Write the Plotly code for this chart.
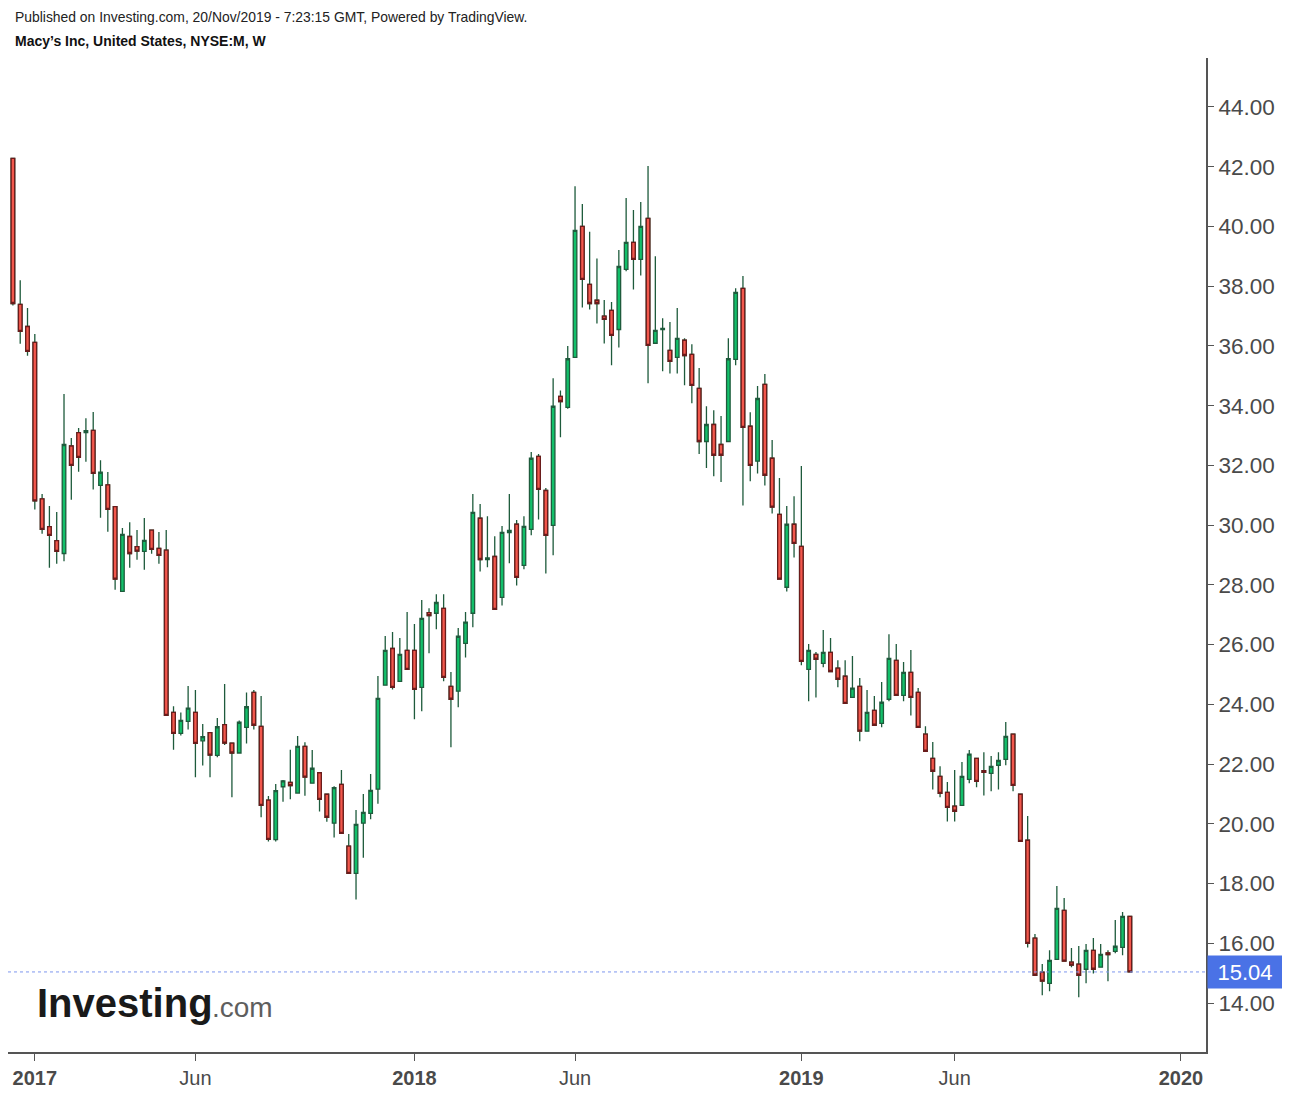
import pandas as pd
import plotly.graph_objects as go

# Weekly bars (Monday dates), Macy's Inc, NYSE:M
start_week = "2016-12-12"
n_weeks = 154

opens = [42.28, 37.39, 36.65, 36.12, 30.88, 29.95, 29.48, 29.05, 32.65, 33.10,
         33.10, 33.17, 31.33, 31.35, 30.62, 27.78, 29.62, 29.28, 29.12, 29.83,
         29.22, 29.16, 23.73, 23.03, 23.43, 23.73, 22.78, 23.05, 22.29, 23.32,
         22.70, 22.37, 23.23, 24.40, 23.26, 20.79, 19.47, 21.24, 21.39, 21.03,
         22.59, 21.36, 21.71, 20.99, 20.02, 21.32, 19.25, 18.34, 20.02, 20.35,
         21.16, 24.64, 25.87, 24.77, 25.81, 25.81, 24.57, 27.07, 27.05, 27.21,
         24.60, 24.44, 26.04, 27.05, 30.23, 28.85, 28.95, 27.58, 29.75, 30.03,
         28.65, 29.86, 32.30, 31.16, 29.99, 34.31, 33.94, 35.62, 40.00, 38.06,
         37.53, 37.00, 37.19, 36.55, 38.56, 39.47, 38.90, 40.27, 36.09, 36.55,
         35.85, 35.62, 36.19, 35.72, 34.58, 32.80, 33.37, 32.70, 32.80, 35.55,
         37.93, 33.31, 32.14, 34.71, 32.24, 30.36, 27.92, 30.03, 29.29, 25.17,
         25.67, 25.37, 25.74, 25.21, 24.94, 24.23, 24.60, 23.10, 23.80, 23.36,
         24.17, 25.47, 24.30, 25.07, 24.40, 23.00, 22.19, 21.59, 21.05, 20.59,
         20.62, 21.49, 22.19, 21.78, 21.69, 21.96, 22.16, 23.00, 20.99, 19.45,
         16.17, 15.03, 14.66, 15.46, 17.10, 15.37, 15.30, 15.13, 15.76, 15.20,
         15.68, 15.73, 15.86, 16.90]
highs = [42.30, 38.20, 37.27, 36.40, 31.04, 30.64, 30.44, 34.39, 32.92, 33.25,
         33.58, 33.79, 32.17, 31.78, 30.62, 29.90, 30.10, 29.84, 30.24, 29.83,
         29.77, 29.84, 23.94, 23.73, 24.61, 24.48, 23.34, 23.05, 23.54, 24.68,
         22.70, 23.46, 24.40, 24.48, 24.28, 20.93, 21.33, 21.47, 22.48, 22.94,
         22.73, 22.47, 21.71, 20.99, 21.26, 21.80, 19.66, 20.46, 21.00, 21.67,
         24.95, 26.29, 26.42, 26.22, 27.09, 26.69, 27.49, 27.22, 27.69, 27.69,
         25.08, 26.56, 27.09, 31.04, 30.71, 30.30, 29.63, 29.97, 31.04, 30.17,
         30.30, 32.45, 32.38, 31.24, 34.92, 34.51, 36.00, 41.35, 40.75, 39.82,
         38.93, 37.54, 37.47, 39.21, 40.95, 40.55, 40.82, 42.02, 39.00, 36.93,
         36.80, 37.27, 36.26, 36.06, 35.26, 33.98, 33.85, 33.65, 36.26, 37.93,
         38.34, 33.78, 34.66, 35.06, 32.85, 31.58, 30.64, 30.97, 31.98, 26.02,
         25.75, 26.49, 26.22, 25.48, 25.48, 25.62, 24.88, 24.48, 24.28, 24.75,
         26.35, 26.02, 25.42, 25.82, 24.55, 23.27, 22.74, 21.93, 21.40, 21.80,
         22.07, 22.47, 22.19, 22.40, 22.27, 22.40, 23.41, 23.00, 20.99, 20.26,
         16.31, 15.31, 15.77, 17.92, 17.52, 15.84, 15.91, 15.98, 16.18, 15.98,
         15.77, 16.78, 17.05, 16.90]
lows = [37.35, 36.07, 35.67, 30.52, 29.71, 28.57, 28.71, 28.79, 30.85, 31.79,
        32.12, 31.19, 30.25, 29.78, 27.84, 27.78, 28.57, 28.84, 28.51, 29.04,
        28.71, 23.63, 22.48, 22.96, 23.16, 21.56, 21.95, 21.56, 22.23, 22.64,
        20.89, 22.37, 22.69, 23.16, 20.22, 19.41, 19.41, 20.74, 20.82, 21.03,
        20.94, 21.36, 20.41, 20.07, 19.54, 19.68, 18.34, 17.47, 18.86, 20.15,
        20.67, 24.64, 24.50, 24.77, 25.17, 23.50, 23.77, 25.71, 26.51, 24.77,
        22.56, 23.90, 25.57, 26.58, 28.45, 28.59, 27.18, 27.31, 28.72, 27.98,
        28.52, 29.66, 30.19, 28.38, 28.99, 32.94, 33.90, 35.62, 37.29, 37.22,
        36.75, 36.08, 35.35, 35.95, 38.50, 37.89, 38.36, 34.75, 36.09, 35.15,
        35.08, 35.08, 34.68, 34.08, 32.38, 31.91, 31.64, 31.44, 32.80, 35.35,
        30.66, 31.47, 31.73, 31.33, 30.39, 28.19, 27.78, 28.92, 25.31, 24.10,
        24.23, 25.24, 25.10, 24.57, 24.03, 24.23, 22.76, 23.10, 23.30, 23.23,
        24.10, 24.30, 24.10, 23.63, 23.23, 22.43, 21.15, 20.89, 20.08, 20.08,
        20.62, 21.36, 21.22, 20.95, 21.09, 21.15, 21.96, 21.09, 19.41, 15.86,
        14.93, 14.26, 14.39, 15.46, 15.40, 15.20, 14.19, 14.66, 14.99, 15.20,
        14.73, 15.67, 15.60, 15.04]
closes = [37.42, 36.49, 35.82, 30.81, 29.86, 29.66, 29.12, 32.70, 32.00, 32.27,
          33.16, 31.73, 31.77, 30.53, 28.19, 29.69, 29.05, 29.13, 29.49, 29.19,
          28.99, 23.63, 23.03, 23.46, 23.87, 22.69, 22.92, 22.30, 23.25, 22.70,
          22.37, 23.40, 23.92, 23.30, 20.62, 19.48, 21.11, 21.44, 21.28, 22.59,
          21.56, 21.86, 20.82, 20.22, 21.21, 19.68, 18.34, 19.98, 20.38, 21.12,
          24.20, 25.81, 24.57, 25.67, 25.17, 24.50, 26.88, 26.97, 27.41, 24.90,
          24.17, 26.28, 26.75, 30.43, 28.85, 28.90, 27.18, 29.76, 29.82, 28.25,
          29.96, 32.24, 31.20, 29.66, 33.98, 34.14, 35.57, 39.87, 38.23, 37.42,
          37.42, 36.89, 36.35, 38.66, 39.47, 38.90, 40.00, 36.02, 36.52, 36.59,
          35.48, 36.25, 35.68, 34.68, 32.80, 33.37, 32.34, 32.34, 35.57, 37.79,
          33.27, 32.00, 34.24, 31.67, 30.60, 28.19, 30.03, 29.39, 25.44, 25.81,
          25.51, 25.74, 25.10, 24.84, 24.03, 24.54, 23.10, 23.73, 23.30, 24.07,
          25.54, 24.30, 25.07, 24.23, 23.23, 22.43, 21.76, 21.02, 20.55, 20.42,
          21.59, 22.33, 21.42, 21.72, 21.92, 22.12, 22.93, 21.29, 19.41, 16.00,
          14.93, 14.73, 15.43, 17.17, 15.40, 15.27, 14.93, 15.76, 15.13, 15.63,
          15.62, 15.90, 16.90, 15.04]

last_price = 15.04
y_tick_values = [14, 16, 18, 20, 22, 24, 26, 28, 30, 32, 34, 36, 38, 40, 42, 44]
x_tick_dates = ["2017-01-02", "2017-06-05", "2018-01-01", "2018-06-04",
                "2019-01-07", "2019-06-03", "2020-01-06"]
x_tick_labels = ["<b>2017</b>", "Jun", "<b>2018</b>", "Jun",
                 "<b>2019</b>", "Jun", "<b>2020</b>"]
header_line = "Published on Investing.com, 20/Nov/2019 - 7:23:15 GMT, Powered by TradingView."
title_line = "Macy\u2019s Inc, United States, NYSE:M, W"

dates = pd.date_range(start_week, periods=n_weeks, freq="7D")

GREEN = "#12c06a"
RED = "#f2584c"
DKGREEN = "#1e5b3c"
DKRED = "#6b1b1b"
AXIS = "#555555"
FONT = "Liberation Sans, Arial, sans-serif"

fig = go.Figure()

# full candles (wicks + bodies)
fig.add_trace(go.Candlestick(
    x=dates, open=opens, high=highs, low=lows, close=closes,
    increasing=dict(line=dict(color=DKGREEN, width=1.3), fillcolor=GREEN),
    decreasing=dict(line=dict(color=DKGREEN, width=1.3), fillcolor=RED),
    whiskerwidth=0, hoverinfo="skip", showlegend=False,
))

# red bodies with dark red outline on top
dn = [i for i in range(n_weeks) if closes[i] < opens[i]]
fig.add_trace(go.Candlestick(
    x=[dates[i] for i in dn],
    open=[opens[i] for i in dn],
    high=[max(opens[i], closes[i]) for i in dn],
    low=[min(opens[i], closes[i]) for i in dn],
    close=[closes[i] for i in dn],
    increasing=dict(line=dict(color=DKRED, width=1.3), fillcolor=RED),
    decreasing=dict(line=dict(color=DKRED, width=1.3), fillcolor=RED),
    whiskerwidth=0, hoverinfo="skip", showlegend=False,
))

# last price dotted line
fig.add_shape(type="line", xref="paper", yref="y", x0=0, x1=1,
              y0=last_price, y1=last_price,
              line=dict(color="#7d97ee", width=1, dash="dot"))

fig.add_annotation(xref="paper", yref="y", x=1, y=last_price,
                   xanchor="left", yanchor="middle", xshift=1,
                   text=f"{last_price:.2f}", showarrow=False,
                   font=dict(family=FONT, size=22, color="white"),
                   bgcolor="#4a72e6", width=70, height=28, borderpad=2)

# header texts
fig.add_annotation(xref="paper", yref="paper", x=0.0042, y=1.041,
                   xanchor="left", yanchor="middle", text=header_line,
                   showarrow=False, font=dict(family=FONT, size=13.9, color="#222222"))
fig.add_annotation(xref="paper", yref="paper", x=0.0042, y=1.017,
                   xanchor="left", yanchor="middle", text="<b>" + title_line + "</b>",
                   showarrow=False, font=dict(family=FONT, size=14, color="#111111"))

# logo
fig.add_annotation(xref="paper", yref="paper", x=0.0225, y=0.0493,
                   xanchor="left", yanchor="middle", text="<b>Investing</b>",
                   showarrow=False, font=dict(family=FONT, size=40, color="#1a1a1a"))
fig.add_annotation(xref="paper", yref="paper", x=0.1685, y=0.0443,
                   xanchor="left", yanchor="middle", text=".com",
                   showarrow=False, font=dict(family=FONT, size=28, color="#5e5e5e"))

fig.update_layout(
    width=1282, height=1086,
    margin=dict(l=0, r=84, t=50, b=42),
    paper_bgcolor="white", plot_bgcolor="white",
    font=dict(family=FONT, color="#4a4a4a"),
    showlegend=False,
    xaxis=dict(
        type="date", range=["2016-12-07 07:00", "2020-01-30"],
        rangeslider=dict(visible=False),
        showgrid=False, zeroline=False,
        showline=True, linecolor=AXIS, linewidth=2,
        ticks="outside", ticklen=7, tickcolor=AXIS, tickwidth=1,
        tickmode="array", tickvals=x_tick_dates, ticktext=x_tick_labels,
        tickfont=dict(family=FONT, size=20, color="#4a4a4a"),
    ),
    yaxis=dict(
        side="right", range=[12.36, 45.64],
        showgrid=False, zeroline=False,
        showline=True, linecolor=AXIS, linewidth=2,
        ticks="outside", ticklen=6, tickcolor=AXIS, tickwidth=1,
        tickmode="array", tickvals=y_tick_values,
        ticktext=[f"{v:.2f}" for v in y_tick_values],
        tickfont=dict(family=FONT, size=22.5, color="#4a4a4a"),
    ),
)

fig.write_html("out.html")
